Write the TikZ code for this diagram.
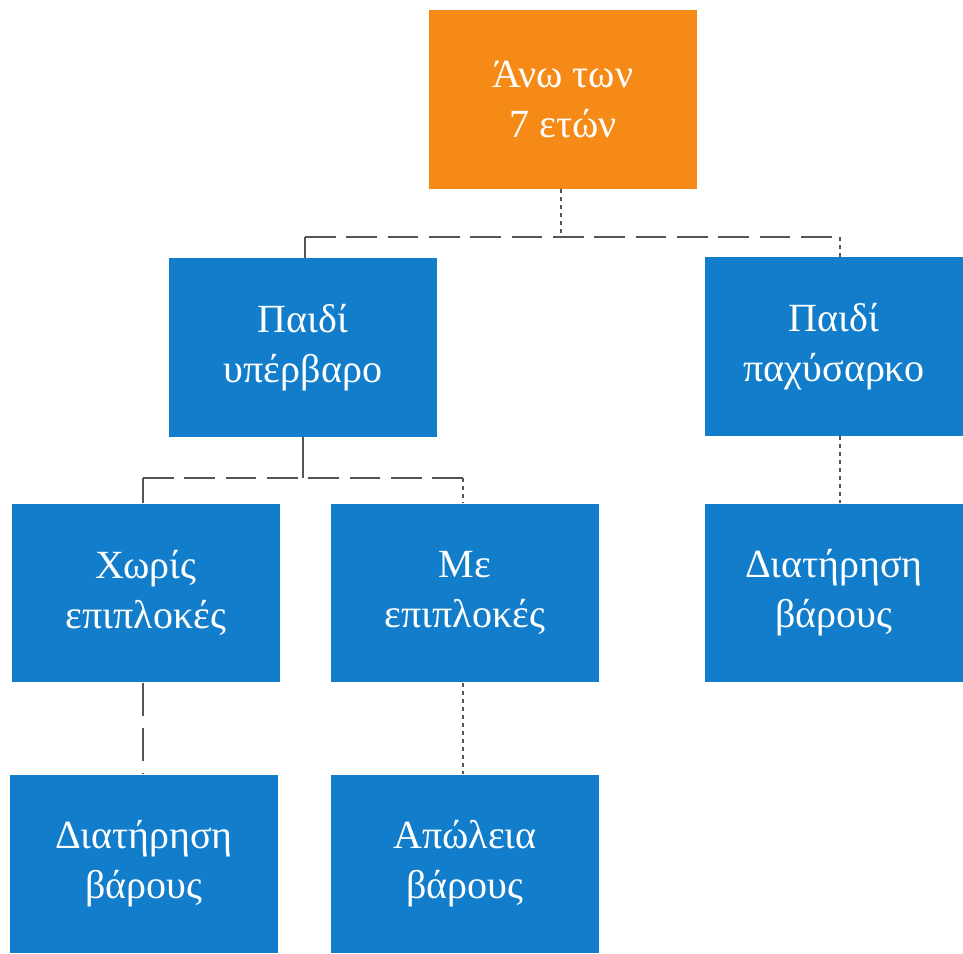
\documentclass[tikz,border=0pt]{standalone}
\usepackage{fontspec}
\setmainfont{Liberation Serif}
\usetikzlibrary{positioning,calc}
\definecolor{boxorange}{HTML}{F68A16}
\definecolor{boxblue}{HTML}{117DCB}
\definecolor{linkgray}{HTML}{555555}

\begin{document}
\begin{tikzpicture}[
        x=0.75pt, y=-0.75pt,
        font=\fontsize{30}{37.5}\selectfont,
        box/.style={rectangle, fill=boxblue, text=white, minimum width=201pt, minimum height=134pt, align=center, inner sep=0pt},
        boxtop/.style={box, fill=boxorange},
        boxnarrow/.style={box, minimum width=193.5pt},
        link/.style={draw=linkgray, line width=1.5pt},
        dots/.style={link, dash pattern=on 3pt off 3pt},
        dashes/.style={link, dash pattern=on 23pt off 8pt},
        longdashes/.style={link, dash pattern=on 25pt off 9pt}
    ]
    \useasboundingbox (0,0) rectangle (963,953);

% --- Boxes ---
    \node[boxtop]    (top)    at (563,99.5)  {Άνω των\\7 ετών};
    \node[box]       (over)   at (303,347.5) {Παιδί\\υπέρβαρο};
    \node[boxnarrow] (obese)  at (834,346.5) {Παιδί\\παχύσαρκο};
    \node[box]       (nocomp) at (146,593)   {Χωρίς\\επιπλοκές};
    \node[box]       (comp)   at (465,593)   {Με\\επιπλοκές};
    \node[boxnarrow] (keepR)  at (834,593)   {Διατήρηση\\βάρους};
    \node[box]       (keepL)  at (144,864)   {Διατήρηση\\βάρους};
    \node[box]       (lose)   at (465,864)   {Απώλεια\\βάρους};

% --- Bend points ---
    \coordinate (j1) at (561,237);
    \coordinate (j1L) at (305,237);
    \coordinate (j1R) at (840,237);
    \coordinate (j2) at (303,478);
    \coordinate (j2L) at (143,478);
    \coordinate (j2R) at (463,478);

% --- Connectors ---
    \draw[dots] (top.south -| j1) -- (j1);
    \draw[dashes] (j1L) -- (j1R);
    \draw[link] (j1L) -- (j1L |- over.north);
    \draw[dots] (j1R) -- (j1R |- obese.north);

    \draw[link] (over.south -| j2) -- (j2);
    \draw[dashes] (j2L) -- (j2R);
    \draw[link] (j2L) -- (j2L |- nocomp.north);
    \draw[dots] (j2R) -- (j2R |- comp.north);

    \draw[longdashes] (nocomp.south -| j2L) -- (j2L |- keepL.north);
    \draw[dots] (comp.south -| j2R) -- (j2R |- lose.north);
    \draw[dots] (obese.south -| j1R) -- (j1R |- keepR.north);

\end{tikzpicture}
\end{document}
